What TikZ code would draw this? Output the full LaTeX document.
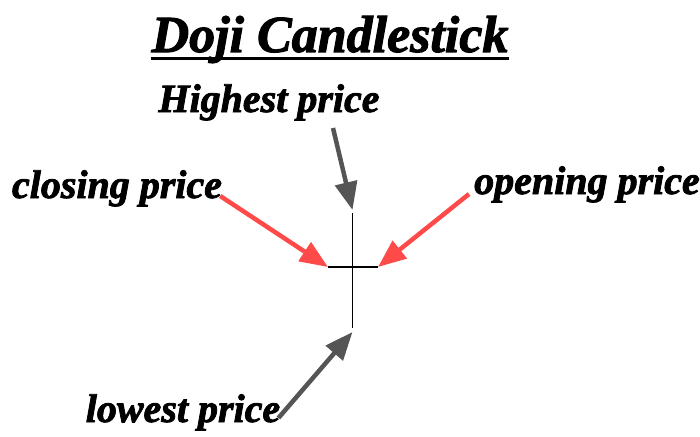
\documentclass[tikz,border=0pt]{standalone}
\usepackage{fontspec}
\setmainfont{Liberation Serif}[BoldItalicFeatures={FakeBold=2}]
\usetikzlibrary{arrows.meta}

\definecolor{arrowred}{HTML}{FF4A4A}
\definecolor{arrowgray}{HTML}{555555}

\begin{document}
\begin{tikzpicture}[
            x = 1pt, y = -1pt, % pixel-like units
            > = {Triangle[length=28pt, width=22pt]}, % arrow head style
            label text/.style = {inner sep = 0pt, anchor = base,
                font = \fontsize{40}{40}\selectfont\bfseries\itshape},
            pointer/.style = {->, line width = 4.5pt}
        ]

        \useasboundingbox (0,0) rectangle (700,436);

        % title
        \node[inner sep = 0pt, anchor = base,
            font = \fontsize{52}{52}\selectfont\bfseries\itshape] (title) at (330,52) {Doji Candlestick};
        \draw[line width = 3pt] ([yshift=-6pt]title.base west) -- ([yshift=-6pt]title.base east);

        % labels
        \node[label text] (high) at (269,112) {Highest price};
        \node[label text] (close) at (117,198) {closing price};
        \node[label text] (open) at (587,194) {opening price};
        \node[label text] (low) at (183,422) {lowest price};

        % the doji cross
        \coordinate (top) at (352.5,213);
        \coordinate (bottom) at (352.5,328);
        \coordinate (left) at (328,267);
        \coordinate (right) at (378,267);

        \draw[line width = 1.5pt] (top) -- (bottom);
        \draw[line width = 1.5pt] (left) -- (right);

        % pointers
        \draw[pointer, arrowgray] ([xshift=64pt, yshift=-16pt]high.base) -- ([yshift=3pt]top);
        \draw[pointer, arrowred] ([xshift=-2pt, yshift=2pt]close.base east) -- (left);
        \draw[pointer, arrowred] ([xshift=-5pt]open.base west) -- (right);
        \draw[pointer, arrowgray] ([xshift=-2pt, yshift=4pt]low.base east) -- ([yshift=-4pt]bottom);

  \end{tikzpicture}
\end{document}
